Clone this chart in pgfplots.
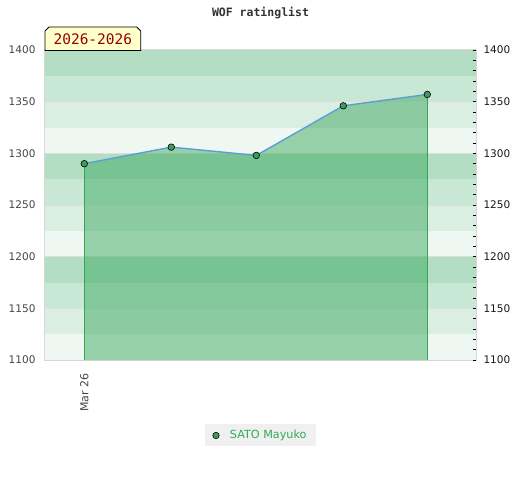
\documentclass[border=0pt]{standalone}
\usepackage{fontspec}
\setmainfont{DejaVu Sans}
\newfontfamily\monofont{DejaVu Sans Mono}
\usepackage{pgfplots}
\pgfplotsset{compat=1.18}
\definecolor{bandA}{RGB}{179,222,195}
\definecolor{bandB}{RGB}{201,231,213}
\definecolor{bandC}{RGB}{219,238,226}
\definecolor{bandD}{RGB}{239,247,242}
\definecolor{areafill}{RGB}{62,170,98}
\definecolor{vline}{RGB}{51,168,82}
\definecolor{linecol}{RGB}{91,158,214}
\definecolor{markfill}{RGB}{58,157,93}
\definecolor{legbg}{RGB}{240,240,240}
\definecolor{legtext}{RGB}{51,170,85}
\definecolor{yearbg}{RGB}{255,255,204}
\definecolor{yeartext}{RGB}{150,0,0}
\definecolor{borderc}{RGB}{215,215,215}
\definecolor{gridc}{RGB}{222,222,222}
\begin{document}
\begin{tikzpicture}
\path[use as bounding box] (0pt,0pt) rectangle (520pt,480pt);
\begin{axis}[
  at={(45pt,120pt)}, anchor=south west,
  scale only axis, width=431pt, height=310pt,
  xmin=-39.3, xmax=391.7, ymin=1100, ymax=1400,
  axis line style={draw=borderc, line width=1.2pt},
  ytick={1100,1150,...,1400},
  yticklabel style={text=black!73, font=\fontsize{10.5}{12}\selectfont, xshift=-6pt},
  major y tick style={draw=none},
  xtick={0}, xticklabels={Mar 26},
  major x tick style={draw=none},
  xticklabel style={rotate=90, anchor=east, text=black!73, font=\fontsize{11}{12}\selectfont, xshift=-10pt},
  /pgf/number format/assume math mode=true,
  /pgf/number format/1000 sep={},
  yticklabel pos=left,
  legend style={at={(0.5,-0.2435)}, anchor=center, fill=legbg, draw=none,
    font=\fontsize{11.2}{13}\selectfont, text=legtext, inner xsep=7.5pt, inner ysep=4pt},
  legend image code/.code={\path[draw=none,fill=none] (0pt,0pt) -- (15.5pt,0pt);\draw[black, line width=0.6pt, fill=markfill] (3.5pt,0pt) circle (3.2pt);},
]
% background bands
\fill[bandA] (axis cs:-39.3,1375) rectangle (axis cs:391.7,1400);
\fill[bandB] (axis cs:-39.3,1350) rectangle (axis cs:391.7,1375);
\fill[bandC] (axis cs:-39.3,1325) rectangle (axis cs:391.7,1350);
\fill[bandD] (axis cs:-39.3,1300) rectangle (axis cs:391.7,1325);
\fill[bandA] (axis cs:-39.3,1275) rectangle (axis cs:391.7,1300);
\fill[bandB] (axis cs:-39.3,1250) rectangle (axis cs:391.7,1275);
\fill[bandC] (axis cs:-39.3,1225) rectangle (axis cs:391.7,1250);
\fill[bandD] (axis cs:-39.3,1200) rectangle (axis cs:391.7,1225);
\fill[bandA] (axis cs:-39.3,1175) rectangle (axis cs:391.7,1200);
\fill[bandB] (axis cs:-39.3,1150) rectangle (axis cs:391.7,1175);
\fill[bandC] (axis cs:-39.3,1125) rectangle (axis cs:391.7,1150);
\fill[bandD] (axis cs:-39.3,1100) rectangle (axis cs:391.7,1125);
% grid lines
\draw[gridc, line width=0.9pt] (axis cs:-39.3,1350) -- (axis cs:391.7,1350);
\draw[gridc, line width=0.9pt] (axis cs:-39.3,1300) -- (axis cs:391.7,1300);
\draw[gridc, line width=0.9pt] (axis cs:-39.3,1250) -- (axis cs:391.7,1250);
\draw[gridc, line width=0.9pt] (axis cs:-39.3,1200) -- (axis cs:391.7,1200);
\draw[gridc, line width=0.9pt] (axis cs:-39.3,1150) -- (axis cs:391.7,1150);
% area
\addplot[draw=none, fill=areafill, fill opacity=0.5, forget plot]
  coordinates {(0,1290) (87,1306) (172,1298) (259,1346) (343,1357)} \closedcycle;
\addplot[vline, line width=0.9pt, forget plot] coordinates {(0,1100) (0,1290)};
\addplot[vline, line width=0.9pt, forget plot] coordinates {(343,1100) (343,1357)};
\addplot[linecol, line width=1.4pt, mark=*, mark size=3.3pt,
  mark options={fill=markfill, draw=black, line width=0.6pt}]
  coordinates {(0,1290) (87,1306) (172,1298) (259,1346) (343,1357)};
\addlegendentry{SATO Mayuko}
\end{axis}
\begin{axis}[
  at={(45pt,120pt)}, anchor=south west,
  scale only axis, width=431pt, height=310pt,
  xmin=-39.3, xmax=391.7, ymin=1100, ymax=1400,
  axis x line=none, axis y line*=right,
  y axis line style={draw=none},
  ytick={1100,1150,...,1400},
  minor ytick={1110,1120,...,1390},
  tick align=inside,
  major tick length=3.5pt, minor tick length=3.5pt,
  tick style={black, line width=0.8pt},
  yticklabel style={text=black!90, font=\fontsize{10.5}{12}\selectfont, xshift=4pt},
  /pgf/number format/assume math mode=true,
  /pgf/number format/1000 sep={},
]
\addplot[draw=none] coordinates {(0,1100)};
\end{axis}
% title
\node[font=\monofont\bfseries\fontsize{11.5}{13}\selectfont, text=black!80] at (260.5pt,467pt) {WOF ratinglist};
% year label
\filldraw[fill=yearbg, draw=black, line width=0.8pt]
  (45pt,429.5pt) -- (45pt,449pt) -- (49pt,453pt) -- (136.7pt,453pt) -- (140.7pt,449pt) -- (140.7pt,429.5pt) -- cycle;
\node[text=yeartext, font=\monofont\fontsize{14.5}{16}\selectfont] at (92.85pt,441pt) {2026-2026};
\end{tikzpicture}
\end{document}
